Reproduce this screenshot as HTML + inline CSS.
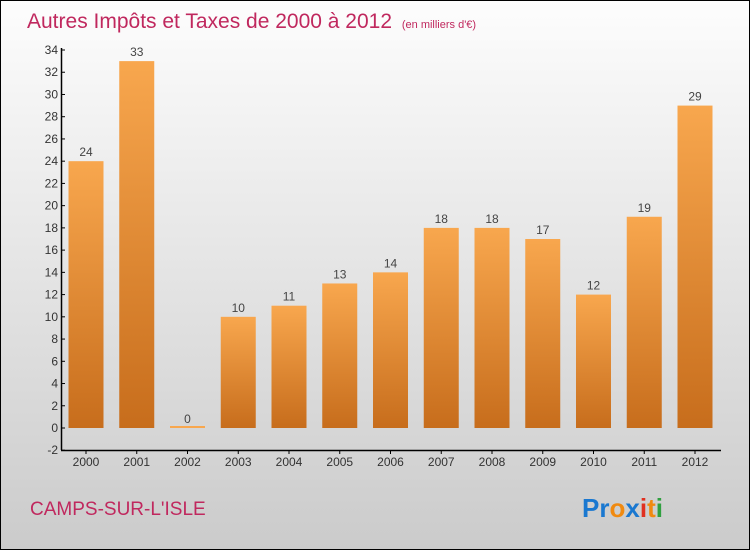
<!DOCTYPE html>
<html><head><meta charset="utf-8"><style>
body{margin:0}
svg{display:block;font-family:"Liberation Sans",sans-serif}
</style></head><body>
<svg width="750" height="550" viewBox="0 0 750 550">
<defs>
<linearGradient id="bg" x1="0" y1="0" x2="0" y2="1"><stop offset="0" stop-color="#fdfdfd"/><stop offset="1" stop-color="#cbcbcb"/></linearGradient>
<linearGradient id="bar" x1="0" y1="0" x2="0" y2="1"><stop offset="0" stop-color="#f8a74e"/><stop offset="1" stop-color="#c76d1c"/></linearGradient>
</defs>
<rect x="0.5" y="0.5" width="749" height="549" fill="url(#bg)" stroke="#000"/>
<text x="27" y="28" font-size="21" fill="#c0285e">Autres Impôts et Taxes de 2000 à 2012 <tspan font-size="11" dx="4">(en milliers d'€)</tspan></text>
<g id="plot"></g>
<text x="30" y="515" font-size="19" fill="#c0285e">CAMPS-SUR-L'ISLE</text>
<text x="582" y="517" font-size="26" font-weight="bold"><tspan fill="#1a78d0">Pr</tspan><tspan fill="#f08a10">o</tspan><tspan fill="#1a78d0">x</tspan><tspan fill="#e03020">i</tspan><tspan fill="#f08a10">t</tspan><tspan fill="#30a040">i</tspan></text>
</svg>
<script>
const years=["2000","2001","2002","2003","2004","2005","2006","2007","2008","2009","2010","2011","2012"];
const values=[24,33,0,10,11,13,14,18,18,17,12,19,29];
const yTicks=[-2,0,2,4,6,8,10,12,14,16,18,20,22,24,26,28,30,32,34];
const NS="http://www.w3.org/2000/svg";
const g=document.getElementById("plot");
const y=v=>428-(v)*(378/34);
const x=i=>86+i*50.75;
function mk(t,a,txt){const e=document.createElementNS(NS,t);for(const k in a)e.setAttribute(k,a[k]);if(txt!==undefined)e.textContent=txt;g.appendChild(e);return e;}
values.forEach((v,i)=>{
  const h=Math.max(y(0)-y(v),2);
  const r=mk("rect",{x:x(i)-17.5,y:y(0)-h,width:35,height:h,fill:v===0?"#f8a74e":"url(#bar)"});
  
  
  const l=mk("text",{x:x(i),y:y(v)-5,"font-size":12,fill:"#444","text-anchor":"middle"},String(v));
  
  
  const xt=mk("text",{x:x(i),y:466,"font-size":12,fill:"#333","text-anchor":"middle"},years[i]);
  
  
  const tk=mk("line",{x1:x(i),x2:x(i),y1:450,y2:454,stroke:"#000"});
  
  
});
yTicks.forEach(t=>{
  const l=mk("line",{x1:61,x2:65,y1:y(t),y2:y(t),stroke:"#000"});
  
  
  const tx=mk("text",{x:58,y:y(t)+4,"font-size":12,fill:"#333","text-anchor":"end"},String(t));
  
  
});
const ya=mk("line",{x1:61.5,x2:61.5,y1:48,y2:450,stroke:"#000","stroke-width":1.5});


const xa=mk("line",{x1:61,x2:721,y1:450.5,y2:450.5,stroke:"#000","stroke-width":1.5});


</script>
</body></html>
